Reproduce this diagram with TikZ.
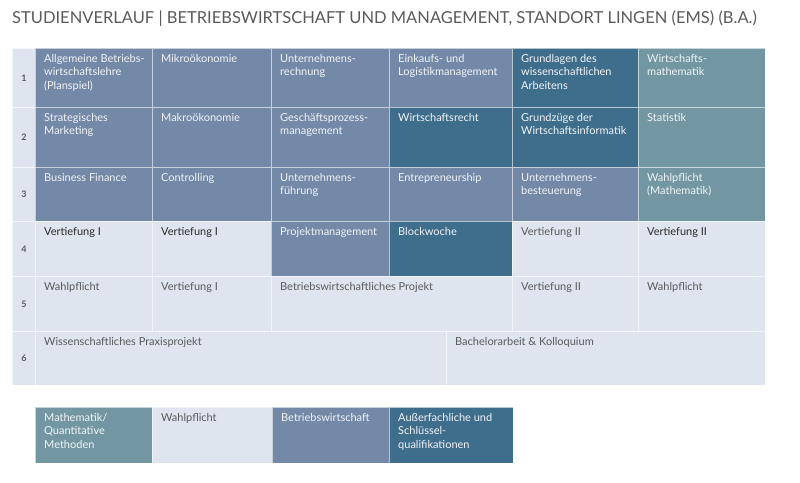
\documentclass[tikz,border=0pt]{standalone}
\usepackage{fontspec}
\setmainfont{Lato}
\definecolor{bwcol}{HTML}{7389A7}
\definecolor{skcol}{HTML}{3F6E8C}
\definecolor{mqcol}{HTML}{7297A3}
\definecolor{wpcol}{HTML}{DFE5EF}
\definecolor{inktxt}{HTML}{5A5A5A}
\definecolor{inkdark}{HTML}{2A2A2A}
\begin{document}
\begin{tikzpicture}[x=1pt,y=-1pt,
    cell/.style={draw=white, draw opacity=0.6, line width=0.8pt, anchor=north west, inner sep=0pt},
    wh/.style 2 args={minimum width=#1pt, minimum height=#2pt},
    bw/.style={cell, fill=bwcol},
    sk/.style={cell, fill=skcol},
    mq/.style={cell, fill=mqcol},
    wp/.style={cell, fill=wpcol},
    lt/.style={anchor=north west, align=left, inner xsep=9pt, inner ysep=6pt,
      font=\fontsize{11}{13.5}\selectfont, text=white!90!bwcol},
    dk/.style={lt, text=inktxt},
    dkk/.style={lt, text=inkdark},
    num/.style={wp, font=\bfseries\fontsize{9}{10}\selectfont, text=inktxt}]
  \useasboundingbox (0,0) rectangle (800,482);
  \node[anchor=west, inner sep=0pt, font=\fontsize{16.5}{19}\selectfont, text=inktxt] (title) at (12,19)
    {STUDIENVERLAUF | BETRIEBSWIRTSCHAFT UND MANAGEMENT, STANDORT LINGEN (EMS) (B.A.)};
  % row numbers
  \node[num, wh={23}{59}] (r1) at (12,48) {1};
  \node[num, wh={23}{60}] (r2) at (12,107) {2};
  \node[num, wh={23}{54}] (r3) at (12,167) {3};
  \node[num, wh={23}{55}] (r4) at (12,221) {4};
  \node[num, wh={23}{55}] (r5) at (12,276) {5};
  \node[num, wh={23}{54}] (r6) at (12,331) {6};
  % semester 1
  \node[bw, wh={117}{59}, label={[lt]north west:Allgemeine Betriebs-\\wirtschaftslehre\\(Planspiel)}] (s1a) at (35,48) {};
  \node[bw, wh={119}{59}, label={[lt]north west:Mikroökonomie}] (s1b) at (152,48) {};
  \node[bw, wh={118}{59}, label={[lt]north west:Unternehmens-\\rechnung}] (s1c) at (271,48) {};
  \node[bw, wh={123}{59}, label={[lt]north west:Einkaufs- und\\Logistikmanagement}] (s1d) at (389,48) {};
  \node[sk, wh={126}{59}, label={[lt]north west:Grundlagen des\\wissenschaftlichen\\Arbeitens}] (s1e) at (512,48) {};
  \node[mq, wh={127}{59}, label={[lt]north west:Wirtschafts-\\mathematik}] (s1f) at (638,48) {};
  % semester 2
  \node[bw, wh={117}{60}, label={[lt]north west:Strategisches\\Marketing}] (s2a) at (35,107) {};
  \node[bw, wh={119}{60}, label={[lt]north west:Makroökonomie}] (s2b) at (152,107) {};
  \node[bw, wh={118}{60}, label={[lt]north west:Geschäftsprozess-\\management}] (s2c) at (271,107) {};
  \node[sk, wh={123}{60}, label={[lt]north west:Wirtschaftsrecht}] (s2d) at (389,107) {};
  \node[sk, wh={126}{60}, label={[lt]north west:Grundzüge der\\Wirtschaftsinformatik}] (s2e) at (512,107) {};
  \node[mq, wh={127}{60}, label={[lt]north west:Statistik}] (s2f) at (638,107) {};
  % semester 3
  \node[bw, wh={117}{54}, label={[lt]north west:Business Finance}] (s3a) at (35,167) {};
  \node[bw, wh={119}{54}, label={[lt]north west:Controlling}] (s3b) at (152,167) {};
  \node[bw, wh={118}{54}, label={[lt]north west:Unternehmens-\\führung}] (s3c) at (271,167) {};
  \node[bw, wh={123}{54}, label={[lt]north west:Entrepreneurship}] (s3d) at (389,167) {};
  \node[bw, wh={126}{54}, label={[lt]north west:Unternehmens-\\besteuerung}] (s3e) at (512,167) {};
  \node[mq, wh={127}{54}, label={[lt]north west:Wahlpflicht\\(Mathematik)}] (s3f) at (638,167) {};
  % semester 4
  \node[wp, wh={117}{55}, label={[dkk]north west:Vertiefung I}] (s4a) at (35,221) {};
  \node[wp, wh={119}{55}, label={[dkk]north west:Vertiefung I}] (s4b) at (152,221) {};
  \node[bw, wh={118}{55}, label={[lt]north west:Projektmanagement}] (s4c) at (271,221) {};
  \node[sk, wh={123}{55}, label={[lt]north west:Blockwoche}] (s4d) at (389,221) {};
  \node[wp, wh={126}{55}, label={[dk]north west:Vertiefung II}] (s4e) at (512,221) {};
  \node[wp, wh={127}{55}, label={[dkk]north west:Vertiefung II}] (s4f) at (638,221) {};
  % semester 5
  \node[wp, wh={117}{55}, label={[dk]north west:Wahlpflicht}] (s5a) at (35,276) {};
  \node[wp, wh={119}{55}, label={[dk]north west:Vertiefung I}] (s5b) at (152,276) {};
  \node[wp, wh={241}{55}, label={[dk]north west:Betriebswirtschaftliches Projekt}] (s5c) at (271,276) {};
  \node[wp, wh={126}{55}, label={[dk]north west:Vertiefung II}] (s5e) at (512,276) {};
  \node[wp, wh={127}{55}, label={[dk]north west:Wahlpflicht}] (s5f) at (638,276) {};
  % semester 6
  \node[wp, wh={411}{54}, label={[dk]north west:Wissenschaftliches Praxisprojekt}] (s6a) at (35,331) {};
  \node[wp, wh={319}{54}, label={[dk]north west:Bachelorarbeit \& Kolloquium}] (s6d) at (446,331) {};
  % legend
  \node[mq, wh={117}{56}, label={[lt]north west:Mathematik/\\Quantitative\\Methoden}] (lg1) at (35,407) {};
  \node[wp, wh={120}{56}, label={[dk]north west:Wahlpflicht}] (lg2) at (152,407) {};
  \node[bw, wh={117}{56}, label={[lt]north west:Betriebswirtschaft}] (lg3) at (272,407) {};
  \node[sk, wh={124}{56}, label={[lt]north west:Außerfachliche und\\Schlüssel-\\qualifikationen}] (lg4) at (389,407) {};
\end{tikzpicture}
\end{document}
